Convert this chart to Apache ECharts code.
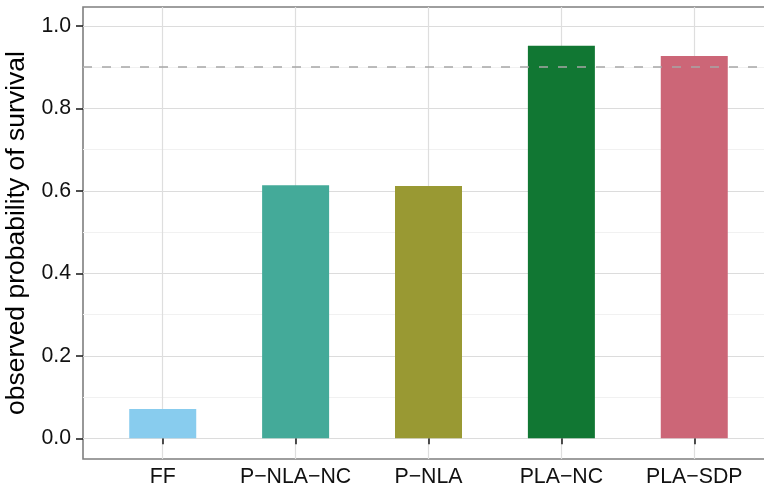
<!DOCTYPE html>
<html>
<head>
<meta charset="utf-8">
<script src="https://cdn.jsdelivr.net/npm/echarts@6/dist/echarts.min.js"></script>
<style>
html,body{margin:0;padding:0;background:#fff;}
#chart{width:764px;height:493px;}
</style>
</head>
<body>
<div id="chart"></div>
<script>
// ---- data ----
const categories = ["FF", "P\u2212NLA\u2212NC", "P\u2212NLA", "PLA\u2212NC", "PLA\u2212SDP"];
const survival = [0.071, 0.614, 0.612, 0.952, 0.927];
const threshold = 0.9;
const yTicks = [0, 0.2, 0.4, 0.6, 0.8, 1.0];
const yMinorTicks = [0.1, 0.3, 0.5, 0.7, 0.9];
const xPositions = [1, 2, 3, 4, 5];

// ---- style ----
const palette = ["#88CCEE", "#44AA99", "#999933", "#117733", "#CC6677"];
const font = "'Liberation Sans', Arial, Helvetica, sans-serif";

const chart = echarts.init(document.getElementById('chart'), null, {renderer: 'canvas'});

const option = {
  animation: false,
  backgroundColor: '#ffffff',
  grid: {
    left: 83, right: -10, top: 7, bottom: 34,
    outerBoundsMode: 'none',
    show: true, borderColor: '#7f7f7f', borderWidth: 1.6, backgroundColor: 'transparent',
    containLabel: false
  },
  xAxis: {
    type: 'value', min: 0.4, max: 5.6,
    axisLine: {show: false},
    axisTick: {show: true, length: 6, inside: false, customValues: xPositions,
      lineStyle: {color: '#222222', width: 1.6}},
    axisLabel: {customValues: xPositions, margin: 8, color: '#111111',
      fontFamily: font, fontSize: 21.3,
      formatter: v => categories[Math.round(v) - 1]},
    splitLine: {show: true, lineStyle: {color: '#dedede', width: 1.2}}
  },
  yAxis: [{
    type: 'value', min: -0.0502, max: 1.046,
    name: 'observed probability of survival',
    nameLocation: 'middle', nameGap: 49,
    nameTextStyle: {fontFamily: font, fontSize: 26.5, color: '#000000'},
    axisLine: {show: false},
    axisTick: {show: true, length: 7, customValues: yTicks,
      lineStyle: {color: '#222222', width: 1.6}},
    axisLabel: {customValues: yTicks, margin: 12, color: '#111111',
      fontFamily: font, fontSize: 21.3,
      formatter: v => v.toFixed(1)},
    splitLine: {show: true, lineStyle: {color: '#dcdcdc', width: 1.2}}
  }, {
    type: 'value', min: -0.0502, max: 1.046, position: 'left',
    axisLine: {show: false},
    axisTick: {show: false, customValues: yMinorTicks},
    axisLabel: {show: false, customValues: yMinorTicks},
    splitLine: {show: true, lineStyle: {color: '#f1f1f1', width: 1}}
  }],
  series: [{
    type: 'bar',
    xAxisIndex: 0, yAxisIndex: 0,
    barWidth: 67,
    data: survival.map((v, i) => ({value: [xPositions[i], v], itemStyle: {color: palette[i]}})),
    markLine: {
      silent: true, symbol: 'none', animation: false,
      label: {show: false},
      lineStyle: {color: '#a6a6a6', type: [9, 10], width: 1.7},
      data: [{yAxis: threshold}]
    }
  }]
};
chart.setOption(option);
</script>
</body>
</html>
